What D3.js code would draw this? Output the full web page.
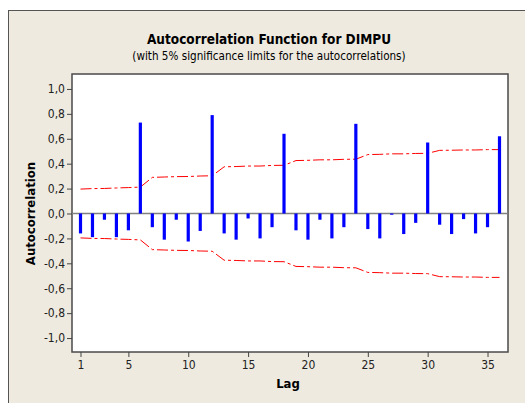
<!DOCTYPE html>
<meta charset="utf-8">
<style>
  body { margin: 0; background: #fff; }
  text { font-family: "DejaVu Sans Condensed", "DejaVu Sans", sans-serif; font-stretch: condensed; }
</style>
<body>
<script src="https://cdn.jsdelivr.net/npm/d3@7"></script>
<script>
  // lags 1..36
  var lags = d3.range(1, 37);
  var acf = [-0.16, -0.19, -0.05, -0.19, -0.135, 0.73, -0.11, -0.21, -0.05, -0.225, -0.14, 0.79,
             -0.16, -0.21, -0.04, -0.20, -0.11, 0.64, -0.135, -0.21, -0.05, -0.20, -0.11, 0.72,
             -0.125, -0.20, -0.01, -0.165, -0.075, 0.57, -0.09, -0.165, -0.045, -0.16, -0.11, 0.62];
  var limit = [0.196, 0.200, 0.201, 0.205, 0.208, 0.212, 0.290, 0.293, 0.296, 0.297, 0.301, 0.303,
               0.375, 0.377, 0.381, 0.381, 0.386, 0.387, 0.425, 0.427, 0.431, 0.431, 0.435, 0.436,
               0.473, 0.475, 0.479, 0.479, 0.482, 0.483, 0.507, 0.508, 0.510, 0.510, 0.513, 0.513];
  var xTicks = [1, 5, 10, 15, 20, 25, 30, 35];
  var yTicks = [-1, -0.8, -0.6, -0.4, -0.2, 0, 0.2, 0.4, 0.6, 0.8, 1];

  var svg = d3.select("body").append("svg")
          .attr("width", 525)
          .attr("height", 403);

  // panel
  svg.append("rect")
          .attr("x", 8.5).attr("y", 10.5)
          .attr("width", 530).attr("height", 400)
          .style("fill", "#eeeae0")
          .style("stroke", "#555")
          .style("stroke-width", 1);

  var plot = {left: 72, top: 74, right: 508, bottom: 352};

  var xScale = d3.scaleLinear().domain([0.29, 36.71]).range([plot.left, plot.right]);
  var yScale = d3.scaleLinear().domain([-1.112, 1.12]).range([plot.bottom, plot.top]);

  svg.append("rect")
          .attr("x", plot.left).attr("y", plot.top)
          .attr("width", plot.right - plot.left).attr("height", plot.bottom - plot.top)
          .style("fill", "#fff")
          .style("stroke", "#4a4a4a")
          .style("stroke-width", 1.5);

  var fmt = function(d) { return d3.format(".1f")(d).replace(".", ",").replace("\u2212", "-"); };

  var yAxis = svg.append("g")
          .attr("transform", "translate(" + plot.left + ",0)")
          .call(d3.axisLeft(yScale).tickValues(yTicks).tickFormat(fmt).tickSize(5).tickPadding(2));
  var xAxis = svg.append("g")
          .attr("transform", "translate(0," + plot.bottom + ")")
          .call(d3.axisBottom(xScale).tickValues(xTicks).tickFormat(d3.format("d")).tickSize(5).tickPadding(3));
  [xAxis, yAxis].forEach(function(a) {
    a.select(".domain").remove();
    a.selectAll("line").style("stroke", "#444");
    a.selectAll("text").style("font-size", "12px").style("fill", "#222");
  });

  // zero line
  svg.append("line")
          .attr("x1", plot.left).attr("x2", plot.right)
          .attr("y1", yScale(0)).attr("y2", yScale(0))
          .style("stroke", "#808080")
          .style("stroke-width", 1.5);

  // limits
  var line = d3.line()
          .x(function(d, i) { return xScale(lags[i]); })
          .y(function(d) { return yScale(d); });
  [1, -1].forEach(function(s) {
    svg.append("path")
            .datum(limit.map(function(v) { return s * v; }))
            .attr("d", line)
            .style("fill", "none")
            .style("stroke", "#ff0000")
            .style("stroke-width", 1)
            .style("stroke-dasharray", "11,3,3,3");
  });

  // bars
  svg.selectAll(".bar")
          .data(acf)
          .enter()
          .append("line")
          .attr("class", "bar")
          .attr("x1", function(d, i) { return xScale(lags[i]); })
          .attr("x2", function(d, i) { return xScale(lags[i]); })
          .attr("y1", yScale(0))
          .attr("y2", function(d) { return yScale(d); })
          .style("stroke", "#0000ff")
          .style("stroke-width", 3.2);

  // titles
  svg.append("text")
          .attr("x", 269).attr("y", 44)
          .attr("text-anchor", "middle")
          .style("font-size", "13.5px").style("font-weight", "bold")
          .text("Autocorrelation Function for DIMPU");
  svg.append("text")
          .attr("x", 269).attr("y", 60)
          .attr("text-anchor", "middle")
          .style("font-size", "11.6px")
          .text("(with 5% significance limits for the autocorrelations)");
  svg.append("text")
          .attr("x", 288).attr("y", 388)
          .attr("text-anchor", "middle")
          .style("font-size", "13px").style("font-weight", "bold")
          .text("Lag");
  svg.append("text")
          .attr("transform", "translate(35," + yScale(0) + ") rotate(-90)")
          .attr("text-anchor", "middle")
          .style("font-size", "13px").style("font-weight", "bold")
          .text("Autocorrelation");
</script>
</body>
</html>
